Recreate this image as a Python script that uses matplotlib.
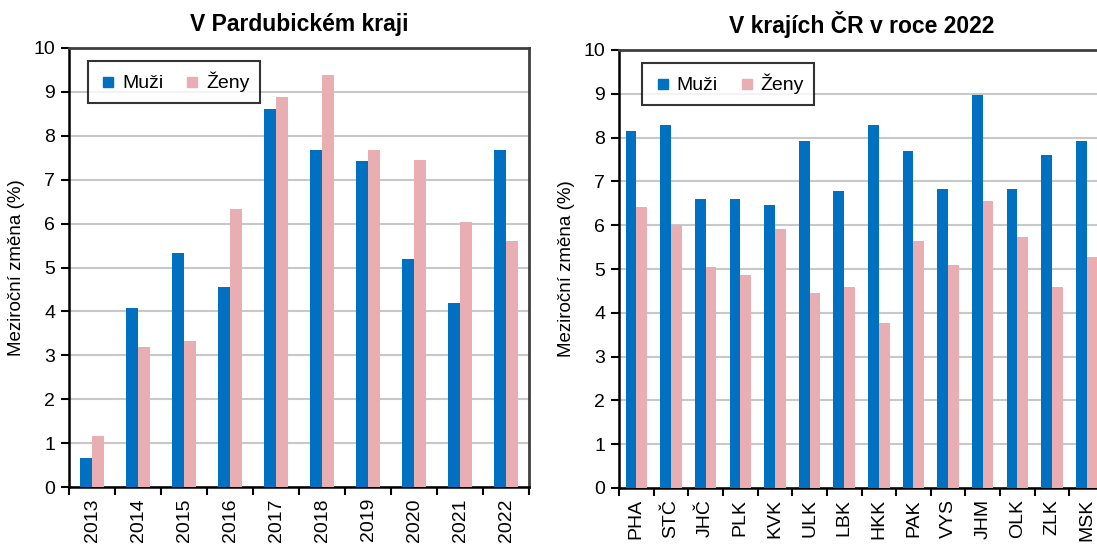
import matplotlib
matplotlib.use("Agg")
import matplotlib.pyplot as plt
import numpy as np
from matplotlib.lines import Line2D

plt.rcParams['font.family'] = ['Liberation Sans', 'DejaVu Sans']

years = ['2013', '2014', '2015', '2016', '2017', '2018', '2019', '2020', '2021', '2022']
pak_muzi = [0.67, 4.08, 5.32, 4.55, 8.61, 7.68, 7.42, 5.19, 4.18, 7.68]
pak_zeny = [1.17, 3.18, 3.32, 6.33, 8.88, 9.38, 7.68, 7.46, 6.04, 5.60]

kraje = ['PHA', 'STČ', 'JHČ', 'PLK', 'KVK', 'ULK', 'LBK', 'HKK', 'PAK', 'VYS', 'JHM', 'OLK', 'ZLK', 'MSK']
kraje_muzi = [8.14, 8.29, 6.59, 6.59, 6.46, 7.92, 6.78, 8.29, 7.70, 6.82, 8.97, 6.82, 7.60, 7.92]
kraje_zeny = [6.41, 6.01, 5.04, 4.87, 5.91, 4.45, 4.59, 3.76, 5.64, 5.09, 6.55, 5.73, 4.59, 5.27]

BLUE = '#0070C0'
PINK = '#E8AEB1'
GRID = '#C8C8C8'

W, H = 1097, 547
fig = plt.figure(figsize=(W / 100, H / 100), dpi=100)

def px_axes(x0, x1, ytop, ybot):
    return fig.add_axes([x0 / W, (H - ybot) / H, (x1 - x0) / W, (ybot - ytop) / H])

def style(ax, cats, muzi, zeny, title, bw, leg_anchor):
    n = len(cats)
    x = np.arange(n)
    ax.bar(x - bw / 2, muzi, width=bw, color=BLUE, zorder=3)
    ax.bar(x + bw / 2, zeny, width=bw, color=PINK, zorder=3)
    ax.set_xlim(-0.5, n - 0.5)
    ax.set_ylim(0, 10)
    ax.set_yticks(range(0, 11))
    ax.yaxis.grid(True, color=GRID, linewidth=1.5, zorder=0)
    ax.set_axisbelow(True)
    ax.set_xticks(x)
    ax.set_xticklabels(cats, rotation=90, fontsize=14)
    ax.set_xticks(np.arange(-0.5, n, 1.0), minor=True)
    ax.tick_params(axis='x', which='major', length=0, pad=8)
    ax.tick_params(axis='x', which='minor', length=6, width=1.5, direction='out', color='black')
    ax.tick_params(axis='y', length=6, width=1.5, direction='out', labelsize=14, pad=4)
    for s in ['left', 'bottom']:
        ax.spines[s].set_color('black')
        ax.spines[s].set_linewidth(1.8)
    for s in ['top', 'right']:
        ax.spines[s].set_color('#404040')
        ax.spines[s].set_linewidth(2.0)
    ax.set_ylabel('Meziroční změna (%)', fontsize=13.5, labelpad=6)
    ax.set_title(title, fontsize=16.5, fontweight='bold', pad=12)
    handles = [Line2D([], [], marker='s', linestyle='none', markersize=6.5, color=BLUE),
               Line2D([], [], marker='s', linestyle='none', markersize=6.5, color=PINK)]
    leg = ax.legend(handles, ['Muži', 'Ženy'], ncol=2, loc='upper left',
                    bbox_to_anchor=leg_anchor, borderaxespad=0, fontsize=14,
                    frameon=True, fancybox=False, edgecolor='black',
                    handletextpad=0.2, columnspacing=1.0, handlelength=1.0,
                    borderpad=0.55)
    leg.get_frame().set_linewidth(1.5)
    leg.set_zorder(5)

ax1 = px_axes(69, 529, 48, 487)
style(ax1, years, pak_muzi, pak_zeny, 'V Pardubickém kraji', 0.27, (0.041, 0.970))

ax2 = px_axes(619, 1104, 50, 488)
style(ax2, kraje, kraje_muzi, kraje_zeny, 'V krajích ČR v roce 2022', 0.31, (0.048, 0.970))

fig.savefig('out.png', dpi=100)
